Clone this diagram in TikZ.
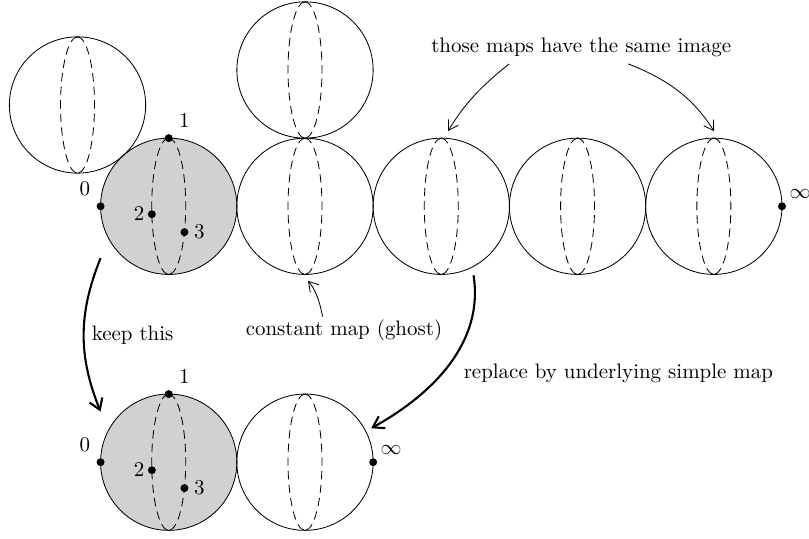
\documentclass[tikz,border=0pt]{standalone}
\usetikzlibrary{positioning,arrows.meta}

\tikzset{
  sphere/.style={circle, draw, minimum size=2.286cm, inner sep=0pt, outer sep=0pt},
  marked/.style={sphere, fill=black!18},
  lens/.style={dash pattern=on 4pt off 2.5pt},
  dot/.style={circle, fill, inner sep=0pt, minimum size=3.8pt},
  hint/.style={-{Straight Barb[length=4.5pt,width=5.5pt]}, shorten >=4pt},
  mapsto/.style={-{Straight Barb[length=5pt,width=6.5pt]}, line width=1pt},
}

\begin{document}
\begin{tikzpicture}[node distance=0pt]
  \useasboundingbox (-2.83,-5.57) rectangle (10.74,3.46);

  \node[marked] (s1) at (0,0) {};
  \node[sphere] (s2) [right=of s1] {};
  \node[sphere] (s3) [right=of s2] {};
  \node[sphere] (s4) [right=of s3] {};
  \node[sphere] (s5) [right=of s4] {};
  \node[sphere] (t1) at (132:2.286) {};
  \node[sphere] (t2) [above=of s2] {};
  \node[marked] (b1) at (0,-4.293) {};
  \node[sphere] (b2) [right=of b1] {};

  \foreach \s in {t1,t2,s1,s2,s3,s4,s5,b1,b2}
    \draw[lens] (\s.north) arc[start angle=90, end angle=270, x radius=0.285, y radius=1.143]
                (\s.north) arc[start angle=90, end angle=-90, x radius=0.285, y radius=1.143];

  % marked points on the principal component
  \foreach \s in {s1,b1} {
    \node[dot, label={above left:$0$}] (\s-0) at (\s.west) {};
    \node[dot, label={above right:$1$}] (\s-1) at (\s.north) {};
    \node[dot, label={[label distance=-2pt]left:$2$}] (\s-2)
      at ([shift={(186.7:0.285 and 1.143)}]\s.center) {};
    \node[dot, label={[label distance=-1pt]right:$3$}] (\s-3)
      at ([shift={(-22.3:0.285 and 1.143)}]\s.center) {};
  }
  \node[dot, label={[label distance=-2pt]above right:$\infty$}] (s5-inf) at (s5.east) {};
  \node[dot, label={[label distance=-2pt]above right:$\infty$}] (b2-inf) at (b2.east) {};

  \node (same) at (6.92,2.67) {those maps have the same image};
  \node (ghost) at (2.94,-2.08) {constant map (ghost)};

  \coordinate (keep-a) at ([yshift=-0.87cm]s1.west);
  \coordinate (keep-b) at ([yshift=0.85cm]b1.west);

  \draw[hint] ([xshift=-1.21cm]same.south) to[bend right=10] (s3.88);
  \draw[hint] ([xshift=0.79cm]same.south) to[bend left=18] (s5.86);
  \draw[hint] ([xshift=-0.36cm, yshift=-2pt]ghost.north) to[bend right=15] (s2.-92);

  \draw[mapsto] (keep-a) to[bend right=22] node[right] {keep this} (keep-b);
  \draw[mapsto, shorten <=4pt, shorten >=3pt] (s3.-63) to[out=-81, in=29]
    node[right, pos=0.56, xshift=7pt] {replace by underlying simple map} (b2.27);
\end{tikzpicture}
\end{document}
